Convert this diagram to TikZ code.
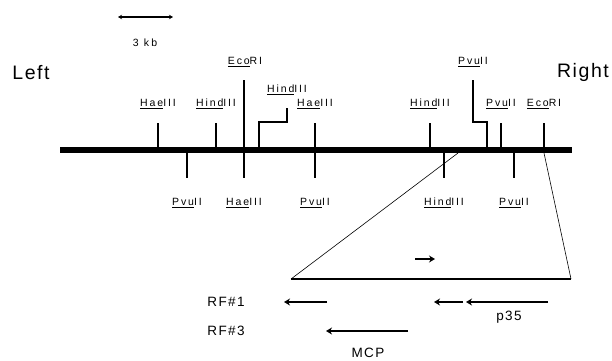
\documentclass[tikz,border=0pt]{standalone}
\usepackage{fontspec}
\usetikzlibrary{arrows.meta}
\setmainfont{Liberation Sans}
\newcommand{\enzname}[2]{\underline{#1}#2}
\begin{document}
\begin{tikzpicture}[x=1pt,y=-1pt,
  enz/.style={font=\fontsize{10.5}{11}\selectfont\addfontfeature{LetterSpace=18}, inner sep=0pt},
  kbs/.style={font=\fontsize{10.5}{11}\selectfont\addfontfeature{LetterSpace=22}, inner sep=0pt},
  big/.style={font=\fontsize{19.5}{22}\selectfont\addfontfeature{LetterSpace=8}, inner sep=0pt},
  mid/.style={font=\fontsize{13.5}{15}\selectfont\addfontfeature{LetterSpace=10}, inner sep=0pt},
  tick/.style={line width=2pt},
  thin/.style={line width=0.6pt},
  arr/.style={line width=2.4pt,-{Stealth[length=6pt,width=7pt]}}]
\useasboundingbox (0,0) rectangle (612,360);
% scale bar
\coordinate (sbL) at (118,17);
\coordinate (sbR) at (173,17);
\draw[line width=1.2pt,{Stealth[length=4pt,width=4.5pt]}-{Stealth[length=4pt,width=4.5pt]}] (sbL) -- (sbR);
\node[kbs] (kb) at (145,43) {3 kb};
\node[big] (left) at (31,73) {Left};
\node[big] (right) at (583,72) {Right};
% main line
\coordinate (mL) at (60,150);
\coordinate (mR) at (572,150);
\draw[line width=6pt] (mL) -- (mR);
% top simple ticks
\foreach \x/\a/\b/\i in {158/Hae/III/1,216/Hind/III/2,315/Hae/III/3,430/Hind/III/4,501/Pvu/II/5,544/Eco/RI/6}{
  \coordinate (t\i a) at (\x,123);
  \coordinate (t\i b) at (\x,150);
  \draw[tick] (t\i a) -- (t\i b);
  \node[enz] (tl\i) at (\x,104) {\enzname{\a}{\b}};
}
% bottom ticks
\foreach \x/\a/\b/\i in {187/Pvu/II/1,244/Hae/III/2,315/Pvu/II/3,444/Hind/III/4,514/Pvu/II/5}{
  \coordinate (b\i a) at (\x,150);
  \coordinate (b\i b) at (\x,178);
  \draw[tick] (b\i a) -- (b\i b);
  \node[enz] (bl\i) at (\x,203) {\enzname{\a}{\b}};
}
% EcoRI long
\coordinate (eco) at (244,80);
\draw[tick] (eco) -- (244,150);
\node[enz] (ecol) at (245,62) {\enzname{Eco}{RI}};
% HindIII bent
\coordinate (hb) at (259,150);
\coordinate (ht) at (287,108);
\draw[tick] (hb) |- (ht |- 0,122) -- (ht);
\node[enz] (hl) at (287,90) {\enzname{Hind}{III}};
% PvuII bent
\coordinate (pb) at (487,150);
\coordinate (pt) at (473,80);
\draw[tick] (pb) |- (pt |- 0,122) -- (pt);
\node[enz] (pl) at (473,62) {\enzname{Pvu}{II}};
% zoom lines
\coordinate (z1) at (458,153);
\coordinate (z2) at (544,153);
\coordinate (dL) at (291,279);
\coordinate (dR) at (571,279);
\draw[thin] (z1) -- (dL);
\draw[thin] (z2) -- (dR);
\draw[line width=2.5pt] (dL) -- (dR);
% small arrow
\coordinate (sa1) at (415,259);
\coordinate (sa2) at (435,259);
\draw[arr] (sa1) -- (sa2);
% RF labels
\node[mid] (rf1) at (226,302) {RF\#1};
\node[mid] (rf3) at (226,331) {RF\#3};
\coordinate (a1s) at (327,302); \coordinate (a1e) at (284,302);
\coordinate (a2s) at (463,302); \coordinate (a2e) at (434,302);
\coordinate (a3s) at (548,302); \coordinate (a3e) at (466,302);
\coordinate (a4s) at (408,331); \coordinate (a4e) at (326,331);
\draw[arr] (a1s) -- (a1e);
\draw[arr] (a2s) -- (a2e);
\draw[arr] (a3s) -- (a3e);
\draw[arr] (a4s) -- (a4e);
\node[mid] (p35) at (509,317) {p35};
\node[mid] (mcp) at (368,353) {MCP};
\end{tikzpicture}
\end{document}
